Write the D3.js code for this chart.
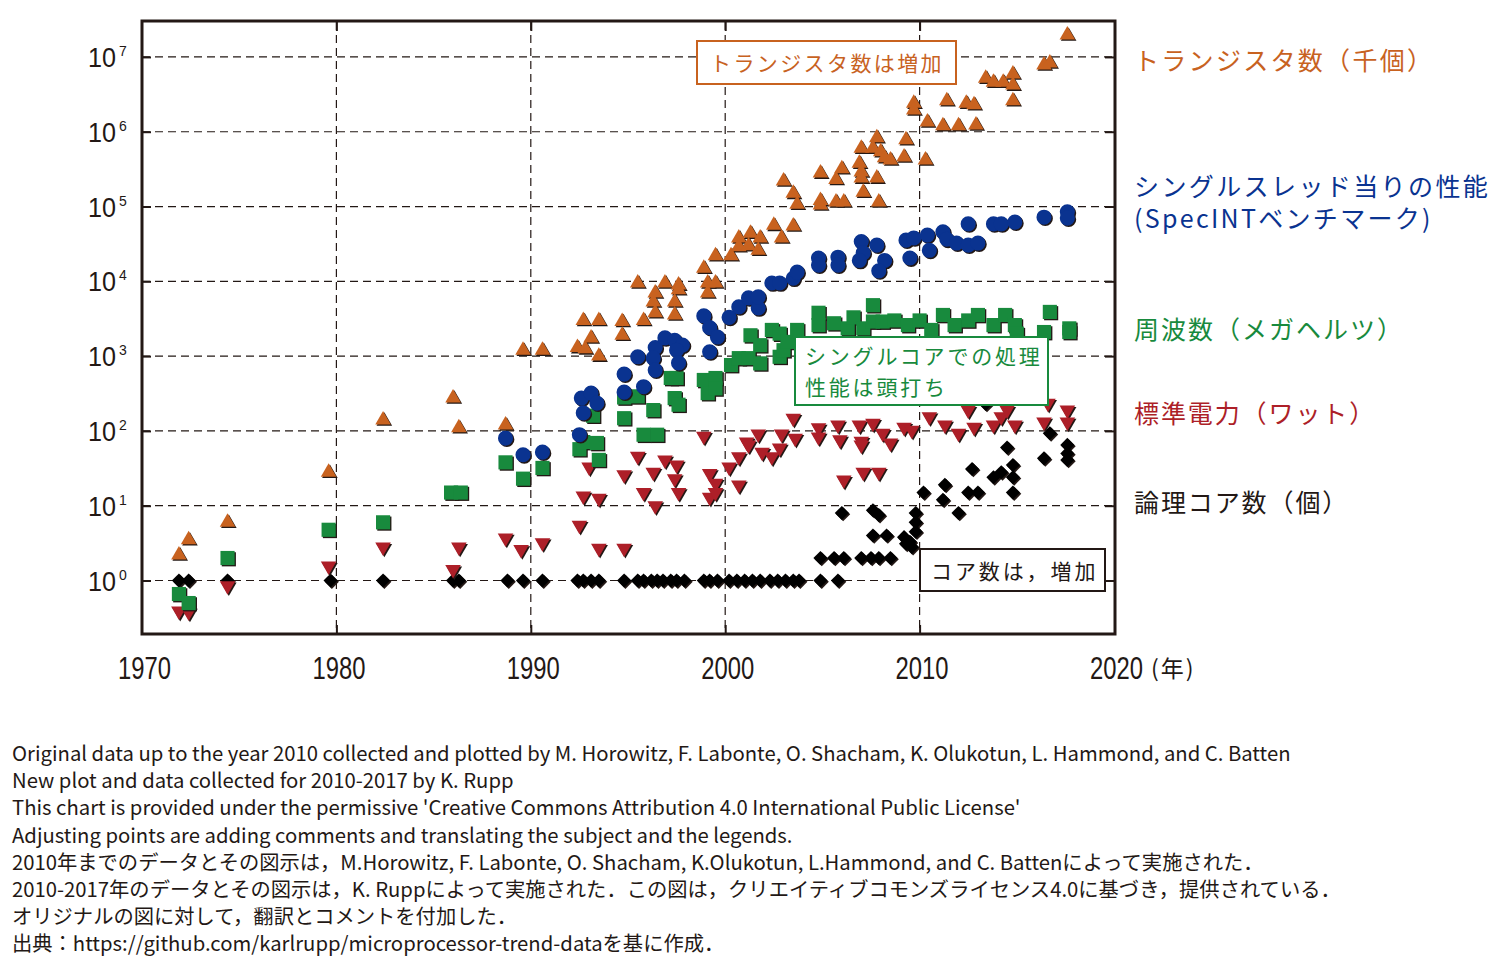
<!DOCTYPE html>
<html>
<head>
<meta charset="utf-8">
<script src="https://cdn.jsdelivr.net/npm/d3@7/dist/d3.min.js"></script>
<style>
body { margin: 0; background: #fff; }
text { font-family: "Noto Sans CJK JP", sans-serif; fill: #231815; }
.num { font-family: "Liberation Sans", Arial, sans-serif; }
.axis path { display: none; }
.axis line { stroke: #231815; stroke-width: 2px; }
.grid line { stroke: #231815; stroke-width: 1.2px; stroke-dasharray: 8,5; }
</style>
</head>
<body>
<svg id="chart" width="1500" height="964"></svg>
<script>
// [year, value] pairs
var transistors = [
  [1971.9,2.2],[1972.4,3.5],[1974.4,6],[1979.6,28],[1982.4,140],[1986.0,275],[1986.3,110],
  [1988.7,120],[1989.6,1200],[1990.6,1200],[1992.4,1300],[1992.7,3000],[1992.8,1250],
  [1993.1,1750],[1993.5,3000],[1993.5,1000],[1994.7,2900],[1994.7,1900],[1995.5,9500],
  [1995.8,3000],[1996.3,5300],[1996.4,7000],[1996.4,3800],[1996.9,9500],[1997.4,5300],
  [1997.4,3550],[1997.6,8900],[1997.6,7700],[1998.9,15000],[1999.1,9500],[1999.1,7000],
  [1999.5,9500],[1999.5,22000],[2000.3,22000],[2000.7,38000],[2000.7,29000],[2001.2,30000],
  [2001.3,44000],[2001.7,26000],[2001.8,38000],[2002.5,56000],[2002.9,38000],[2003.0,220000],
  [2003.5,55000],[2003.5,150000],[2003.7,107000],[2004.9,280000],[2004.9,120000],[2004.9,105000],
  [2005.7,230000],[2005.7,115000],[2006.0,320000],[2006.1,115000],[2007.0,600000],[2006.9,380000],
  [2007.0,290000],[2007.0,240000],[2007.1,155000],[2007.8,830000],[2007.6,600000],[2008.0,540000],
  [2008.2,450000],[2008.5,420000],[2007.8,240000],[2007.9,115000],[2009.3,780000],[2009.2,460000],
  [2010.3,420000],[2009.7,2400000],[2009.7,1950000],[2010.4,1350000],[2011.2,1200000],
  [2012.0,1200000],[2012.9,1230000],[2011.4,2600000],[2012.4,2400000],[2012.8,2300000],
  [2013.4,5200000],[2013.8,4600000],[2014.3,4600000],[2014.8,5900000],[2014.8,4200000],
  [2014.8,2600000],[2016.4,7800000],[2016.7,8300000],[2017.6,19600000]
];
var performance = [
  [1988.7,80],[1989.6,48],[1990.6,52],[1992.5,89],[1992.7,174],[1992.6,275],[1993.1,320],
  [1993.4,235],[1994.8,575],[1994.8,330],[1995.8,390],[1995.5,980],[1996.4,1300],[1996.3,940],
  [1996.4,650],[1996.9,1750],[1997.4,1630],[1997.8,1400],[1997.5,1200],[1997.6,810],
  [1998.9,3450],[1999.2,2400],[1999.6,1800],[1999.2,1140],[2000.2,3300],[2000.7,4550],
  [2001.2,6000],[2001.7,4400],[2001.7,6200],[2002.4,9500],[2002.8,9500],[2003.5,11000],
  [2003.7,13300],[2004.8,20500],[2004.8,16500],[2005.8,21000],[2005.8,16500],[2007.0,34000],
  [2007.1,24000],[2006.9,19000],[2007.8,30500],[2008.2,19000],[2007.9,13800],[2009.3,35500],
  [2009.7,38000],[2010.4,41500],[2010.5,26000],[2009.5,20500],[2011.2,46000],[2011.4,36500],
  [2011.9,32500],[2012.5,30500],[2013.0,32500],[2012.5,58500],[2013.8,58500],[2014.2,58500],
  [2014.9,62000],[2016.4,72000],[2017.6,85000],[2017.6,70000]
];
var frequency = [
  [1971.9,0.66],[1972.4,0.5],[1974.4,2],[1979.6,4.77],[1982.4,6],[1985.9,15],[1986.4,15],
  [1988.7,38],[1989.6,23],[1990.6,32],[1992.5,57],[1992.7,71],[1993.4,69],[1993.5,41],
  [1993.2,160],[1994.8,280],[1995.5,290],[1994.8,148],[1996.3,190],[1995.8,89],[1996.5,89],
  [1997.2,510],[1997.5,510],[1997.4,275],[1997.6,224],[1998.9,480],[1999.5,510],[1999.1,320],
  [1999.5,370],[2000.3,760],[2000.7,940],[2001.2,940],[2001.8,800],[2001.3,1900],[2001.8,1400],
  [2002.4,2240],[2002.8,2000],[2002.8,980],[2003.0,1200],[2003.2,1550],[2003.7,2240],
  [2004.8,3800],[2004.8,2600],[2005.6,2750],[2006.3,2350],[2006.6,3300],[2007.1,2350],
  [2007.6,4800],[2007.6,2900],[2008.1,2900],[2008.7,3000],[2009.4,2600],[2010.0,3000],
  [2010.6,2240],[2011.2,3550],[2011.8,2600],[2012.5,3000],[2013.0,3550],[2013.8,2600],
  [2014.4,3550],[2014.9,2600],[2015.0,2000],[2016.4,2100],[2016.7,3900],[2017.7,2350],[2017.7,2100]
];
var power = [
  [1971.9,0.39],[1972.4,0.38],[1974.4,0.85],[1979.6,1.56],[1982.4,2.8],[1986.3,2.8],[1986.0,1.4],
  [1988.7,3.7],[1989.5,2.6],[1990.6,3.2],[1992.5,5.5],[1992.7,13.5],[1993.5,12.6],[1993.0,33],
  [1993.5,2.7],[1994.8,2.7],[1994.8,26],[1995.5,46],[1995.8,15],[1996.3,28],[1996.4,10],
  [1996.9,41],[1997.5,35],[1997.4,23],[1997.6,15],[1998.9,85],[1999.2,27],[1999.5,20],
  [1999.2,13],[1999.5,15],[2000.2,33],[2000.7,45],[2000.7,19],[2001.2,65],[2001.1,71],
  [2001.7,91],[2001.9,52],[2002.4,45],[2002.8,59],[2002.9,91],[2003.5,148],[2003.6,80],
  [2004.8,110],[2004.8,83],[2005.8,120],[2005.9,76],[2006.9,120],[2007.0,73],[2007.0,65],
  [2007.6,127],[2008.1,93],[2008.5,69],[2009.2,112],[2009.6,102],[2006.1,22],[2007.1,28],
  [2007.9,28],[2010.5,155],[2011.3,120],[2012.0,93],[2012.5,190],[2012.8,112],[2013.8,120],
  [2014.2,155],[2014.5,190],[2014.9,120],[2016.4,132],[2016.6,235],[2017.6,190],[2017.6,132]
];
var cores = [
  [1971.9,1],[1972.4,1],[1974.4,1],[1979.7,1],[1982.4,1],[1986.0,1],[1986.3,1],[1988.8,1],
  [1989.6,1],[1990.6,1],[1992.4,1],[1992.7,1],[1993.1,1],[1993.5,1],[1994.8,1],[1995.5,1],
  [1995.8,1],[1996.2,1],[1996.5,1],[1996.8,1],[1997.2,1],[1997.5,1],[1997.9,1],[1998.9,1],
  [1999.2,1],[1999.6,1],[2000.2,1],[2000.6,1],[2001.0,1],[2001.4,1],[2001.8,1],[2002.3,1],
  [2002.7,1],[2003.1,1],[2003.5,1],[2003.8,1],[2004.9,1],[2005.8,1],
  [2004.9,2],[2005.6,2],[2006.1,2],[2007.0,2],[2007.5,2],[2007.9,2],[2008.5,2],
  [2006.0,8],[2007.6,8.7],[2007.9,7.5],[2007.6,4],[2008.3,4],[2009.2,3.8],[2009.5,3.3],
  [2009.3,3.1],[2009.6,2.8],[2009.8,8],[2009.8,6],[2009.8,4.5],[2010.2,15],[2011.3,19],
  [2011.2,12],[2012.0,8],[2012.5,15],[2013.0,15],[2012.7,31],[2013.8,24],[2014.2,28],
  [2014.8,35],[2014.8,24],[2014.8,15],[2014.5,60],[2016.4,43],[2016.7,93],[2017.6,65],
  [2017.6,50],[2017.6,41],[2013.4,230]
];
var xTicks = [1970, 1980, 1990, 2000, 2010, 2020];
var xGrid = [1980, 1990, 2000, 2010];
var yExponents = [0, 1, 2, 3, 4, 5, 6, 7];
var footnotes = [
  "Original data up to the year 2010 collected and plotted by M. Horowitz, F. Labonte, O. Shacham, K. Olukotun, L. Hammond, and C. Batten",
  "New plot and data collected for 2010-2017 by K. Rupp",
  "This chart is provided under the permissive 'Creative Commons Attribution 4.0 International Public License'",
  "Adjusting points are adding comments and  translating the subject and the legends.",
  "2010年までのデータとその図示は，M.Horowitz, F. Labonte, O. Shacham, K.Olukotun, L.Hammond, and C. Battenによって実施された．",
  "2010-2017年のデータとその図示は，K. Ruppによって実施された．この図は，クリエイティブコモンズライセンス4.0に基づき，提供されている．",
  "オリジナルの図に対して，翻訳とコメントを付加した．",
  "出典：https://github.com/karlrupp/microprocessor-trend-dataを基に作成．"
];

var pl = 142, pr = 1114, pt = 22, pb = 634;
var svg = d3.select("#chart");

var x = d3.scaleLinear().domain([1970, 2020]).range([pl, pr]);
var y = d3.scaleLog().domain([Math.pow(10, -0.715), Math.pow(10, 7.467)]).range([pb, pt]);
var yTicks = yExponents.map(function(e) { return Math.pow(10, e); });

// grid
var grid = svg.append("g").attr("class", "grid");
grid.selectAll(".gy").data(yTicks).enter().append("line")
    .attr("x1", pl).attr("x2", pr)
    .attr("y1", function(d) { return y(d); }).attr("y2", function(d) { return y(d); });
grid.selectAll(".gx").data(xGrid).enter().append("line")
    .attr("x1", function(d) { return x(d); }).attr("x2", function(d) { return x(d); })
    .attr("y1", pt).attr("y2", pb);

// markers, each with a thin dark offset shadow
function drawSeries(data, symbol, size, color, rotate) {
  var gen = d3.symbol().type(symbol).size(size);
  var g = svg.append("g");
  var pos = function(d, dx) {
    return "translate(" + (x(d[0]) + dx) + "," + (y(d[1]) + dx) + ") rotate(" + rotate + ")";
  };
  g.selectAll(".sh").data(data).enter().append("path")
      .attr("d", gen).attr("fill", "#231815")
      .attr("transform", function(d) { return pos(d, 1.3); });
  g.selectAll(".pt").data(data).enter().append("path")
      .attr("d", gen).attr("fill", color)
      .attr("transform", function(d) { return pos(d, 0); });
}
drawSeries(cores, d3.symbolSquare, 100, "#000000", 45);
drawSeries(power, d3.symbolTriangle, 105, "#ad1f28", 180);
drawSeries(frequency, d3.symbolSquare, 200, "#188a3d", 0);
drawSeries(performance, d3.symbolCircle, 180, "#0a3390", 0);
drawSeries(transistors, d3.symbolTriangle, 105, "#c8621f", 0);

// axes: ticks pointing into the frame
svg.append("g").attr("class", "axis").attr("transform", "translate(" + pl + ",0)")
    .call(d3.axisLeft(y).tickValues(yTicks).tickSize(-9).tickFormat(""));
svg.append("g").attr("class", "axis").attr("transform", "translate(" + pr + ",0)")
    .call(d3.axisRight(y).tickValues(yTicks).tickSize(-9).tickFormat(""));
svg.append("g").attr("class", "axis").attr("transform", "translate(0," + pt + ")")
    .call(d3.axisTop(x).tickValues(xGrid).tickSize(-9).tickFormat(""));
svg.append("g").attr("class", "axis").attr("transform", "translate(0," + pb + ")")
    .call(d3.axisBottom(x).tickValues(xGrid).tickSize(-9).tickFormat(""));

svg.append("rect")
    .attr("x", pl).attr("y", pt - 1)
    .attr("width", pr - pl + 1).attr("height", pb - pt + 1)
    .attr("fill", "none").attr("stroke", "#231815").attr("stroke-width", 3);

// y labels: 10 with a raised exponent
var yl = svg.append("g");
yl.selectAll(".b").data(yExponents).enter().append("text")
    .attr("class", "num")
    .attr("x", 88).attr("y", function(d) { return y(Math.pow(10, d)) + 10; })
    .attr("font-size", 28)
    .attr("textLength", 28).attr("lengthAdjust", "spacingAndGlyphs")
    .text("10");
yl.selectAll(".e").data(yExponents).enter().append("text")
    .attr("class", "num")
    .attr("x", 119).attr("y", function(d) { return y(Math.pow(10, d)) - 1; })
    .attr("font-size", 14)
    .text(function(d) { return d; });

// x labels
svg.selectAll(".xl").data(xTicks).enter().append("text")
    .attr("class", "num")
    .attr("x", function(d) { return x(d) - 24; }).attr("y", 679)
    .attr("font-size", 32)
    .attr("textLength", 53).attr("lengthAdjust", "spacingAndGlyphs")
    .text(function(d) { return d; });
svg.append("text").attr("x", 1151).attr("y", 677).attr("font-size", 23)
    .attr("letter-spacing", 2).text("(年)");

// annotation boxes
function box(x0, y0, w, h, color) {
  svg.append("rect").attr("x", x0).attr("y", y0).attr("width", w).attr("height", h)
      .attr("fill", "#fff").attr("stroke", color).attr("stroke-width", 2);
}
box(697, 41, 259, 43, "#c8621f");
svg.append("text").attr("x", 710).attr("y", 71).attr("font-size", 21)
    .attr("letter-spacing", 2.4).style("fill", "#c8621f").text("トランジスタ数は増加");
box(795, 337, 253, 68, "#188a3d");
svg.append("text").attr("x", 805).attr("y", 364).attr("font-size", 21)
    .attr("letter-spacing", 2.8).style("fill", "#188a3d").text("シングルコアでの処理");
svg.append("text").attr("x", 805).attr("y", 395).attr("font-size", 21)
    .attr("letter-spacing", 2.8).style("fill", "#188a3d").text("性能は頭打ち");
box(920, 549, 185, 42, "#231815");
svg.append("text").attr("x", 931).attr("y", 579).attr("font-size", 21)
    .attr("letter-spacing", 2.9).text("コア数は，増加");

// series labels on the right
var legend = [
  {t: "トランジスタ数（千個）", y: 70, c: "#c8621f", s: 2.3},
  {t: "シングルスレッド当りの性能", y: 196, c: "#0a3390", s: 2.4},
  {t: "(SpecINTベンチマーク)", y: 228, c: "#0a3390", s: 2.3},
  {t: "周波数（メガヘルツ）", y: 339, c: "#188a3d", s: 2},
  {t: "標準電力（ワット）", y: 423, c: "#ad1f28", s: 1.9},
  {t: "論理コア数（個）", y: 512, c: "#231815", s: 1.9}
];
svg.selectAll(".lg").data(legend).enter().append("text")
    .attr("x", 1134).attr("y", function(d) { return d.y; })
    .attr("font-size", 25).attr("letter-spacing", function(d) { return d.s; })
    .style("fill", function(d) { return d.c; })
    .text(function(d) { return d.t; });

// footnotes
svg.selectAll(".fn").data(footnotes).enter().append("text")
    .attr("x", 12).attr("y", function(d, i) { return 761 + i * 27.2; })
    .attr("font-size", 20.3)
    .text(function(d) { return d; });
</script>
</body>
</html>
